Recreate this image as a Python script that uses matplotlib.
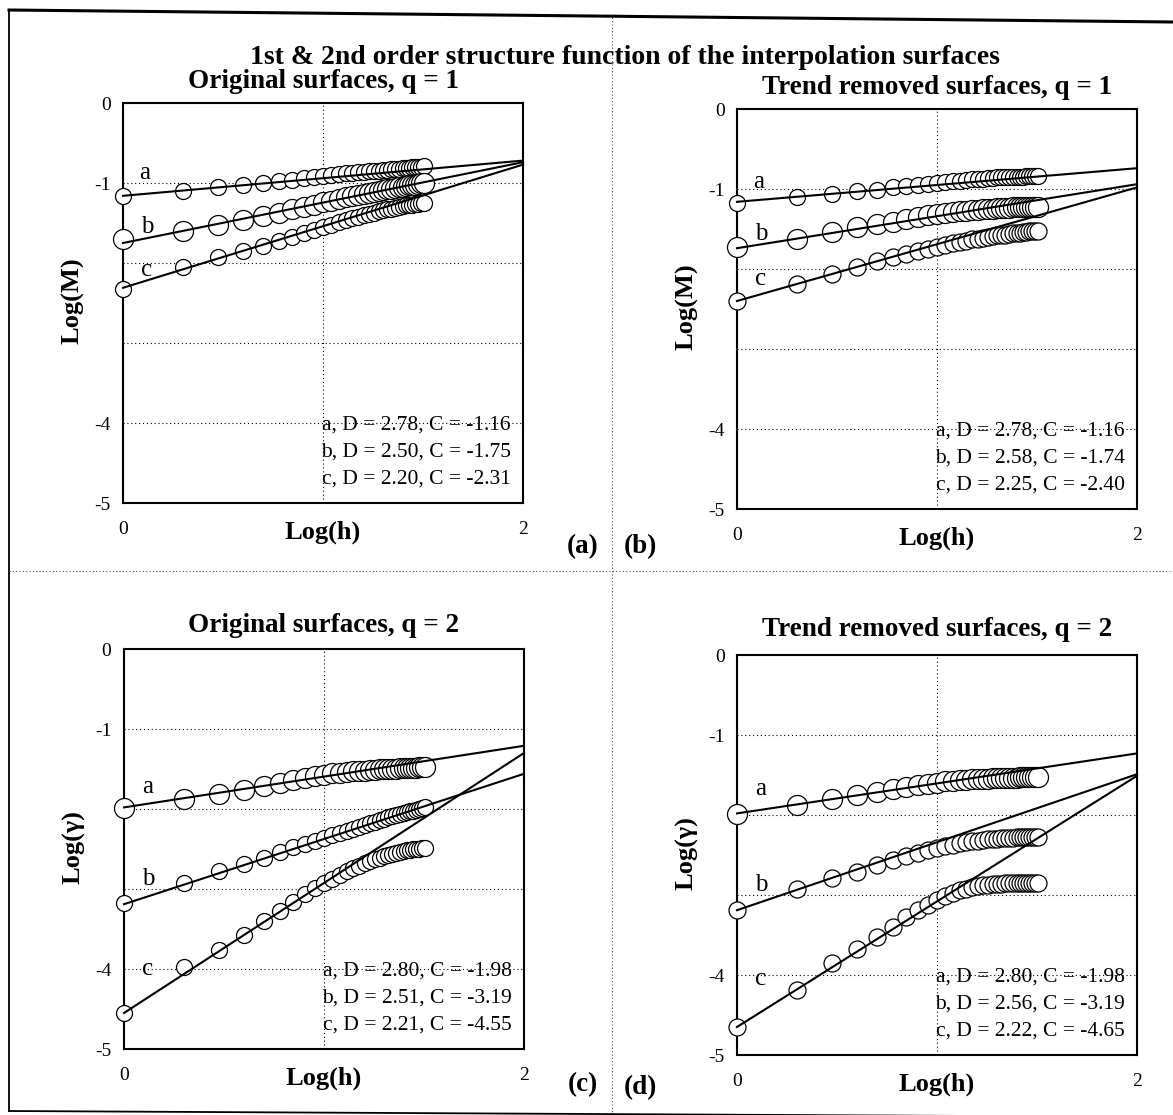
import numpy as np
import matplotlib.pyplot as plt
from matplotlib.lines import Line2D

plt.rcParams['font.family'] = ['Liberation Serif', 'DejaVu Serif']

W, H = 1173, 1115  # pixels at dpi 100

###### data ######
lags = list(range(1, 33))  # h = 1 .. 32

orig_q1_a = [-1.16, -1.10, -1.05, -1.02, -1.00, -0.98, -0.96, -0.94, -0.93, -0.91, -0.90, -0.89,
             -0.88, -0.87, -0.865, -0.86, -0.855, -0.85, -0.845, -0.84, -0.835, -0.83, -0.825,
             -0.82, -0.815, -0.81, -0.81, -0.805, -0.80, -0.80, -0.795, -0.79]
orig_q1_b = [-1.70, -1.60, -1.52, -1.46, -1.41, -1.37, -1.33, -1.30, -1.27, -1.24, -1.22, -1.20,
             -1.18, -1.165, -1.15, -1.135, -1.12, -1.11, -1.10, -1.09, -1.08, -1.07, -1.06,
             -1.05, -1.045, -1.04, -1.03, -1.025, -1.02, -1.01, -1.005, -1.00]
orig_q1_c = [-2.33, -2.05, -1.93, -1.85, -1.79, -1.73, -1.68, -1.63, -1.59, -1.55, -1.52, -1.49,
             -1.46, -1.44, -1.42, -1.40, -1.385, -1.37, -1.355, -1.34, -1.33, -1.32, -1.31,
             -1.30, -1.29, -1.28, -1.275, -1.27, -1.265, -1.26, -1.255, -1.25]

trend_q1_a = [-1.17, -1.10, -1.06, -1.03, -1.01, -0.98, -0.965, -0.95, -0.935, -0.92, -0.91, -0.90,
              -0.895, -0.89, -0.88, -0.875, -0.87, -0.865, -0.86, -0.855, -0.855, -0.85, -0.85,
              -0.85, -0.845, -0.845, -0.845, -0.84, -0.84, -0.84, -0.84, -0.84]
trend_q1_b = [-1.72, -1.62, -1.54, -1.48, -1.44, -1.41, -1.38, -1.355, -1.33, -1.31, -1.30, -1.29,
              -1.28, -1.27, -1.265, -1.26, -1.255, -1.25, -1.245, -1.24, -1.24, -1.235, -1.235,
              -1.23, -1.23, -1.23, -1.225, -1.225, -1.22, -1.22, -1.22, -1.22]
trend_q1_c = [-2.40, -2.19, -2.06, -1.97, -1.90, -1.85, -1.81, -1.77, -1.745, -1.72, -1.70, -1.68,
              -1.66, -1.645, -1.63, -1.62, -1.61, -1.60, -1.59, -1.58, -1.575, -1.57, -1.56,
              -1.555, -1.55, -1.545, -1.54, -1.535, -1.53, -1.525, -1.52, -1.52]

orig_q2_a = [-1.99, -1.875, -1.81, -1.765, -1.71, -1.67, -1.64, -1.615, -1.59, -1.57, -1.555, -1.545,
             -1.535, -1.53, -1.525, -1.52, -1.515, -1.51, -1.505, -1.50, -1.50, -1.495, -1.495,
             -1.49, -1.49, -1.49, -1.485, -1.485, -1.485, -1.48, -1.48, -1.48]
orig_q2_b = [-3.18, -2.92, -2.78, -2.69, -2.61, -2.54, -2.48, -2.44, -2.40, -2.36, -2.33, -2.30,
             -2.27, -2.245, -2.22, -2.20, -2.18, -2.16, -2.14, -2.12, -2.105, -2.09, -2.075,
             -2.06, -2.05, -2.04, -2.03, -2.02, -2.01, -2.00, -1.99, -1.98]
orig_q2_c = [-4.55, -3.97, -3.76, -3.58, -3.40, -3.28, -3.16, -3.06, -2.99, -2.93, -2.87, -2.82,
             -2.78, -2.74, -2.71, -2.68, -2.655, -2.63, -2.61, -2.59, -2.575, -2.56, -2.545,
             -2.535, -2.525, -2.515, -2.51, -2.505, -2.50, -2.495, -2.49, -2.49]

trend_q2_a = [-1.99, -1.875, -1.795, -1.745, -1.71, -1.675, -1.65, -1.63, -1.61, -1.595, -1.58, -1.57,
              -1.565, -1.56, -1.555, -1.55, -1.545, -1.545, -1.54, -1.54, -1.54, -1.535, -1.535,
              -1.535, -1.535, -1.53, -1.53, -1.53, -1.53, -1.53, -1.53, -1.53]
trend_q2_b = [-3.19, -2.92, -2.79, -2.71, -2.62, -2.56, -2.51, -2.47, -2.44, -2.41, -2.39, -2.37,
              -2.355, -2.34, -2.33, -2.32, -2.31, -2.305, -2.30, -2.295, -2.29, -2.29, -2.285,
              -2.285, -2.28, -2.28, -2.28, -2.28, -2.28, -2.28, -2.28, -2.28]
trend_q2_c = [-4.65, -4.19, -3.85, -3.68, -3.52, -3.40, -3.28, -3.19, -3.12, -3.06, -3.01, -2.97,
              -2.94, -2.92, -2.90, -2.89, -2.88, -2.87, -2.865, -2.86, -2.86, -2.855, -2.855,
              -2.85, -2.85, -2.85, -2.85, -2.85, -2.85, -2.85, -2.85, -2.85]

# fitted lines: value at Log(h)=0 and at Log(h)=2
fit_x = [0, 2]
orig_q1_fit = [[-1.16, -0.72], [-1.75, -0.74], [-2.31, -0.77]]
trend_q1_fit = [[-1.16, -0.74], [-1.74, -0.94], [-2.40, -0.98]]
orig_q2_fit = [[-1.98, -1.21], [-3.19, -1.56], [-4.55, -1.30]]
trend_q2_fit = [[-1.98, -1.23], [-3.19, -1.49], [-4.65, -1.51]]

orig_q1_stats = ['a, D = 2.78, C = -1.16', 'b, D = 2.50, C = -1.75', 'c, D = 2.20, C = -2.31']
trend_q1_stats = ['a, D = 2.78, C = -1.16', 'b, D = 2.58, C = -1.74', 'c, D = 2.25, C = -2.40']
orig_q2_stats = ['a, D = 2.80, C = -1.98', 'b, D = 2.51, C = -3.19', 'c, D = 2.21, C = -4.55']
trend_q2_stats = ['a, D = 2.80, C = -1.98', 'b, D = 2.56, C = -3.19', 'c, D = 2.22, C = -4.65']

series_names = ['a', 'b', 'c']
y_tick_values = [0, -1, -2, -3, -4, -5]
y_tick_labels = ['0', '-1', '', '', '-4', '-5']
x_tick_values = [0, 1, 2]
x_tick_labels = ['0', '', '2']

###### layout ######
panels = [
    dict(title='Original surfaces, q = 1', ylabel='Log(M)',
         series=[orig_q1_a, orig_q1_b, orig_q1_c], fits=orig_q1_fit, stats=orig_q1_stats,
         box=(123, 103), ms=(16, 20, 16), letters=[(0.08, -0.88), (0.09, -1.55), (0.09, -2.09)],
         title_y=82, tag='(a)', tag_pos=(583, 547)),
    dict(title='Trend removed surfaces, q = 1', ylabel='Log(M)',
         series=[trend_q1_a, trend_q1_b, trend_q1_c], fits=trend_q1_fit, stats=trend_q1_stats,
         box=(737, 109), ms=(16, 20, 17), letters=[(0.08, -0.91), (0.09, -1.56), (0.09, -2.12)],
         title_y=88, tag='(b)', tag_pos=(640, 547)),
    dict(title='Original surfaces, q = 2', ylabel='Log(\u03b3)',
         series=[orig_q2_a, orig_q2_b, orig_q2_c], fits=orig_q2_fit, stats=orig_q2_stats,
         box=(124, 649), ms=(20, 16, 16), letters=[(0.09, -1.72), (0.09, -2.87), (0.09, -4.0)],
         title_y=625, tag='(c)', tag_pos=(583, 1085)),
    dict(title='Trend removed surfaces, q = 2', ylabel='Log(\u03b3)',
         series=[trend_q2_a, trend_q2_b, trend_q2_c], fits=trend_q2_fit, stats=trend_q2_stats,
         box=(737, 655), ms=(20, 17, 17), letters=[(0.09, -1.68), (0.09, -2.87), (0.09, -4.05)],
         title_y=629, tag='(d)', tag_pos=(640, 1088)),
]
AX_W, AX_H = 400, 400


def fx(px):
    return px / W


def fy(py):
    return 1 - py / H


fig = plt.figure(figsize=(W / 100, H / 100), dpi=100)

# scanned page frame and dotted panel dividers
fig.add_artist(Line2D([fx(9), fx(1173)], [fy(10), fy(22)], color='k', lw=2.2))
fig.add_artist(Line2D([fx(9), fx(9)], [fy(10), fy(1111)], color='k', lw=1.3))
fig.add_artist(Line2D([fx(9), fx(1173)], [fy(1111), fy(1117)], color='k', lw=1.3))
fig.add_artist(Line2D([fx(612), fx(612)], [fy(14), fy(1112)], color='#555555', lw=0.8, ls=(0, (1, 2))))
fig.add_artist(Line2D([fx(9), fx(1173)], [fy(571), fy(571)], color='#555555', lw=0.8, ls=(0, (1, 2))))

fig.text(fx(625), fy(57), '1st & 2nd order structure function of the interpolation surfaces',
         ha='center', va='center', fontsize=20, fontweight='bold')

log_h = np.log10(lags)

for p in panels:
    left, top = p['box']
    ax = fig.add_axes([fx(left), fy(top + AX_H), AX_W / W, AX_H / H])
    ax.set_xlim(0, 2)
    ax.set_ylim(-5, 0)
    ax.set_xticks(x_tick_values)
    ax.set_xticklabels(x_tick_labels)
    ax.set_yticks(y_tick_values)
    ax.set_yticklabels(y_tick_labels)
    ax.tick_params(length=0, labelsize=14)
    ax.tick_params(axis='x', pad=13)
    ax.tick_params(axis='y', pad=9)
    ax.grid(True, ls=(0, (1, 2.5)), color='k', lw=0.8)
    for s in ax.spines.values():
        s.set_linewidth(1.5)

    for vals, fit, ms in zip(p['series'], p['fits'], p['ms']):
        ax.plot(log_h, vals, 'o', mfc='white', mec='black', mew=0.9,
                ms=ms * 0.72, zorder=3, clip_on=False)
        ax.plot(fit_x, fit, color='black', lw=1.5, zorder=4, clip_on=False)

    for name, (lx, ly) in zip(series_names, p['letters']):
        ax.text(lx, ly, name, fontsize=18, ha='left', va='center', zorder=5)

    for i, s in enumerate(p['stats']):
        ax.text(0.97, 0.195 - i * 0.068, s, transform=ax.transAxes, ha='right', va='center',
                fontsize=15.5, zorder=5)

    ax.text(0.5, -0.072, 'Log(h)', transform=ax.transAxes, ha='center', va='center',
            fontsize=19, fontweight='bold')
    ax.text(-0.125, 0.505, p['ylabel'], transform=ax.transAxes, ha='center', va='center',
            rotation=90, fontsize=19, fontweight='bold')

    fig.text(fx(left + AX_W / 2), fy(p['title_y']), p['title'], ha='center', va='center',
             fontsize=19.5, fontweight='bold')
    fig.text(fx(p['tag_pos'][0]), fy(p['tag_pos'][1]), p['tag'], ha='center', va='center',
             fontsize=19.5, fontweight='bold')

fig.savefig('out.png', dpi=100)
